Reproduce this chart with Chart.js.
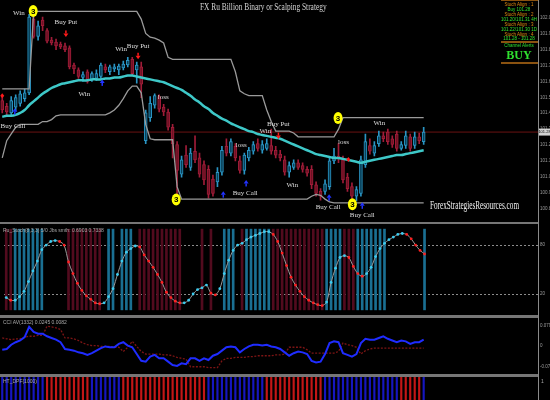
<!DOCTYPE html>
<html>
<head>
<meta charset="utf-8">
<title>FX Ru Billion Binary or Scalping Strategy</title>
<script src="https://cdn.jsdelivr.net/npm/chart.js@4.4.1/dist/chart.umd.min.js"></script>
<style>
  body { margin: 0; background: #000; }
  #wrap { position: relative; width: 550px; height: 400px; overflow: hidden; background: #000; }
  #wrap canvas { position: absolute; left: 0; }
  .rule { position: absolute; background: #767676; }
  .txt { position: absolute; white-space: nowrap; line-height: 1; }
  .info { font: 5px "Liberation Sans", sans-serif; color: #a8a8a8; left: 3px; }
  .dash { font: 4.5px "Liberation Sans", sans-serif; width: 40px; left: 499px; text-align: center; }
  .orange { color: #e08a10; }
  .green { color: #2fe02f; }
</style>
</head>
<body>
<div id="wrap">
  <canvas id="priceChart" width="550" height="222" style="top:0"></canvas>
  <canvas id="stochChart" width="550" height="91" style="top:224px"></canvas>
  <canvas id="cciChart" width="550" height="56" style="top:318px"></canvas>
  <canvas id="trendChart" width="550" height="23" style="top:377px"></canvas>

  <div class="rule" style="left:0;top:222px;width:538px;height:2px"></div>
  <div class="rule" style="left:0;top:315px;width:538px;height:3px"></div>
  <div class="rule" style="left:0;top:374px;width:538px;height:3px"></div>
  <div class="rule" style="left:538px;top:0;width:1px;height:400px;background:#8a8a8a"></div>

  <div class="txt" style="left:200px;top:1px;font:10px 'Liberation Serif',serif;color:#d4d4d4;transform:scaleX(0.74);transform-origin:left top">FX Ru Billion Binary or Scalping Strategy</div>
  <div class="txt" style="left:430px;top:198px;font:12px 'Liberation Serif',serif;color:#f2f2f2;transform:scaleX(0.6);transform-origin:left top">ForexStrategiesResources.com</div>

  <!-- dashboard top right -->
  <div class="rule" style="left:501px;top:0;width:37px;height:1px;background:#8a5210"></div>
  <div class="txt dash orange" style="top:2px">Stoch Align : 1</div>
  <div class="txt dash green" style="top:6.5px">Buy 101.28</div>
  <div class="txt dash orange" style="top:12px">Stoch Align : 2</div>
  <div class="txt dash green" style="top:17px">101.20/101.31 4H</div>
  <div class="txt dash orange" style="top:22px">Stoch Align : 3</div>
  <div class="txt dash green" style="top:27px">101.22/101.30 1D</div>
  <div class="txt dash orange" style="top:31.5px">Stoch Align : 4</div>
  <div class="txt dash green" style="top:36px">101.28 - 101.28</div>
  <div class="rule" style="left:501px;top:41px;width:37px;height:1.5px;background:#8a5210"></div>
  <div class="txt dash green" style="top:43px">Channel Alerts</div>
  <div class="txt dash green" style="top:48px;font:bold 12px 'Liberation Serif',serif">BUY</div>
  <div class="rule" style="left:501px;top:62px;width:37px;height:1.5px;background:#8a5210"></div>

  <div class="txt info" style="top:227px">Ru_Stoch(8,3,3) 5/0 Jbs smth: 0.6903 0.7338</div>
  <div class="txt info" style="top:319px">CCI AV(1332) 0.0245 0.0082</div>
  <div class="txt info" style="top:378px">HT_DPF(1000)</div>
  <div class="txt info" style="top:378px;left:541px">1</div>
</div>

<script>
// Candles (bar slots on the x axis, only the first 95 are filled)
const slots = Array.from({ length: 120 }, (_, i) => String(i + 1));

const opens = [
  101.480, 101.444, 101.402, 101.438, 101.462, 101.492, 101.528, 101.990, 101.882,
  101.984, 101.918, 101.858, 101.846, 101.834, 101.822, 101.810, 101.702, 101.672,
  101.624, 101.660, 101.612, 101.618, 101.630, 101.690, 101.660, 101.678, 101.672, 101.684,
  101.702, 101.738, 101.672, 101.690, 101.228, 101.372, 101.450, 101.504, 101.438, 101.408,
  101.312, 101.204, 101.018, 101.138, 101.060, 101.162, 101.120, 101.078, 101.048, 100.988,
  100.970, 101.030, 101.192, 101.150, 101.192, 101.102, 101.042, 101.120, 101.162, 101.210,
  101.168, 101.180, 101.198, 101.168, 101.144, 101.108, 101.030, 101.060, 101.090, 101.072, 101.048,
  101.048, 100.952, 100.910, 100.910, 100.940, 101.102, 101.132, 101.108, 101.000, 100.940,
  100.880, 100.898, 101.078, 101.198, 101.150, 101.210, 101.258, 101.282, 101.240, 101.270, 101.180,
  101.198, 101.252, 101.198, 101.252, 101.222
];
const closes = [
  101.420, 101.408, 101.480, 101.498, 101.522, 101.528, 102.002, 101.882, 101.948,
  101.948, 101.852, 101.840, 101.822, 101.816, 101.798, 101.690, 101.678, 101.630,
  101.642, 101.600, 101.648, 101.648, 101.702, 101.672, 101.690, 101.690, 101.696, 101.708,
  101.732, 101.648, 101.702, 101.582, 101.402, 101.462, 101.510, 101.426, 101.408, 101.312,
  101.210, 101.042, 101.108, 101.078, 101.150, 101.108, 101.018, 100.982, 100.892, 100.898,
  101.030, 101.168, 101.150, 101.222, 101.120, 101.042, 101.138, 101.168, 101.204, 101.180,
  101.204, 101.210, 101.162, 101.138, 101.120, 101.030, 101.072, 101.090, 101.060, 101.048, 101.024,
  100.952, 100.898, 100.880, 100.958, 101.102, 101.132, 101.120, 100.982, 100.928, 100.880,
  100.922, 101.108, 101.222, 101.162, 101.198, 101.258, 101.240, 101.222, 101.204, 101.180, 101.204,
  101.258, 101.180, 101.252, 101.228, 101.282
];
const highs = [
  101.510, 101.462, 101.504, 101.516, 101.540, 101.552, 102.020, 102.032, 101.978,
  102.002, 101.930, 101.876, 101.864, 101.846, 101.840, 101.822, 101.714, 101.684,
  101.660, 101.672, 101.660, 101.672, 101.714, 101.708, 101.702, 101.708, 101.708, 101.726,
  101.750, 101.750, 101.720, 101.720, 101.420, 101.504, 101.522, 101.516, 101.456, 101.426,
  101.330, 101.222, 101.132, 101.198, 101.180, 101.258, 101.150, 101.102, 101.072, 101.012,
  101.060, 101.192, 101.240, 101.240, 101.210, 101.132, 101.150, 101.186, 101.222, 101.240,
  101.228, 101.240, 101.300, 101.192, 101.168, 101.132, 101.096, 101.108, 101.108, 101.090, 101.066,
  101.072, 100.970, 100.928, 100.982, 101.120, 101.180, 101.210, 101.132, 101.024, 100.964,
  100.940, 101.132, 101.270, 101.240, 101.222, 101.288, 101.282, 101.300, 101.258, 101.288, 101.222,
  101.288, 101.270, 101.282, 101.276, 101.312
];
const lows = [
  101.402, 101.390, 101.384, 101.414, 101.444, 101.474, 101.516, 101.870, 101.858,
  101.918, 101.840, 101.828, 101.798, 101.804, 101.786, 101.678, 101.648, 101.618,
  101.600, 101.588, 101.600, 101.606, 101.618, 101.654, 101.642, 101.660, 101.642, 101.672,
  101.690, 101.636, 101.588, 101.498, 101.210, 101.348, 101.432, 101.408, 101.384, 101.294,
  101.120, 100.880, 101.000, 101.060, 101.042, 101.090, 101.000, 100.952, 100.868, 100.880,
  100.940, 101.012, 101.132, 101.132, 101.102, 101.024, 101.018, 101.102, 101.144, 101.162,
  101.150, 101.168, 101.144, 101.120, 101.102, 101.012, 101.000, 101.048, 101.048, 101.030, 101.006,
  100.928, 100.880, 100.856, 100.892, 100.922, 101.084, 101.090, 100.964, 100.910, 100.862,
  100.850, 100.880, 101.060, 101.144, 101.132, 101.192, 101.222, 101.204, 101.186, 101.162, 101.168,
  101.180, 101.162, 101.180, 101.210, 101.204
];

// Moving average (cyan) and the stepped channel (grey)
const maLine = [
  101.378, 101.384, 101.384, 101.390, 101.402, 101.420, 101.450, 101.474, 101.498, 101.522,
  101.540, 101.558, 101.570, 101.582, 101.588, 101.594, 101.600, 101.606, 101.606, 101.606,
  101.612, 101.612, 101.612, 101.618, 101.618, 101.624, 101.624, 101.630, 101.636, 101.636,
  101.630, 101.624, 101.618, 101.612, 101.606, 101.600, 101.594, 101.582, 101.570, 101.558,
  101.546, 101.528, 101.510, 101.486, 101.468, 101.444, 101.426, 101.402, 101.384, 101.366,
  101.354, 101.336, 101.324, 101.312, 101.300, 101.288, 101.282, 101.270, 101.264, 101.258,
  101.252, 101.246, 101.240, 101.228, 101.216, 101.204, 101.192, 101.180, 101.168, 101.156,
  101.144, 101.138, 101.132, 101.126, 101.120, 101.120, 101.114, 101.108, 101.102, 101.096,
  101.090, 101.096, 101.102, 101.108, 101.114, 101.120, 101.126, 101.132, 101.138, 101.138,
  101.144, 101.150, 101.156, 101.162, 101.168
];
const upperBand = [
  101.552, 101.552, 101.552, 101.552, 101.552, 101.552, 101.552, 102.038, 102.038, 102.038,
  102.038, 102.038, 102.038, 102.038, 102.038, 102.038, 102.038, 102.038, 102.038, 102.038,
  102.038, 102.038, 102.038, 102.038, 102.038, 102.038, 102.038, 102.038, 102.038, 102.038,
  102.038, 101.990, 101.900, 101.876, 101.870, 101.858, 101.840, 101.750, 101.738, 101.738,
  101.738, 101.738, 101.738, 101.738, 101.738, 101.738, 101.738, 101.738, 101.738, 101.738,
  101.738, 101.738, 101.660, 101.540, 101.522, 101.510, 101.510, 101.510, 101.510, 101.420,
  101.348, 101.288, 101.288, 101.288, 101.288, 101.276, 101.252, 101.252, 101.252, 101.252,
  101.252, 101.252, 101.252, 101.252, 101.252, 101.300, 101.372, 101.372, 101.372, 101.372,
  101.372, 101.372, 101.372, 101.372, 101.372, 101.372, 101.372, 101.372, 101.372, 101.372,
  101.372, 101.372, 101.372, 101.372, 101.372
];
const lowerBand = [
  101.120, 101.228, 101.270, 101.312, 101.330, 101.330, 101.330, 101.330, 101.330, 101.348,
  101.348, 101.360, 101.384, 101.390, 101.390, 101.390, 101.390, 101.390, 101.390, 101.390,
  101.390, 101.390, 101.390, 101.390, 101.402, 101.420, 101.450, 101.492, 101.540, 101.570,
  101.570, 101.528, 101.330, 101.240, 101.234, 101.234, 101.234, 101.234, 101.234, 100.940,
  100.862, 100.862, 100.862, 100.862, 100.862, 100.862, 100.862, 100.862, 100.862, 100.862,
  100.862, 100.862, 100.862, 100.862, 100.862, 100.862, 100.862, 100.862, 100.862, 100.862,
  100.862, 100.862, 100.862, 100.862, 100.862, 100.862, 100.862, 100.862, 100.862, 100.880,
  100.892, 100.886, 100.862, 100.844, 100.838, 100.838, 100.838, 100.838, 100.838, 100.838,
  100.838, 100.838, 100.838, 100.838, 100.838, 100.838, 100.838, 100.838, 100.838, 100.838,
  100.838, 100.838, 100.838, 100.838, 100.838
];
const priceTicks = [100.8, 100.9, 101.0, 101.1, 101.2, 101.3, 101.4, 101.5, 101.6, 101.7, 101.8, 101.9, 102.0];

// Signal labels, arrows and "3" markers on the price pane (candle index, price)
const noteIdx = [3.7, 14.2, 26.5, 30.3, 18.3, 2.4, 35.9, 58.7, 61.6, 53.3, 54.2, 64.7, 72.7, 76.1, 84.1, 80.3];
const notePrice = [102.03, 101.97, 101.80, 101.82, 101.52, 101.32, 101.50, 101.29, 101.33, 101.20, 100.90, 100.95, 100.81, 101.22, 101.34, 100.76];
const noteText = ['Win', 'Buy Put', 'Win', 'Buy Put', 'Win', 'Buy Call', 'loss', 'Win', 'Buy Put', 'loss', 'Buy Call', 'Win', 'Buy Call', 'loss', 'Win', 'Buy Call'];
const arrowIdx = [14.2, 30.3, 61.6, 2.8, 22.3, 54.4, 49.3, 72.9, 80.3];
const arrowPrice = [101.90, 101.76, 101.26, 101.41, 101.59, 100.96, 100.89, 100.87, 100.82];
const arrowDir = [-1, -1, -1, 1, 1, 1, 1, 1, 1];
const dotIdx = [0, 77.2];
const dotPrice = [101.51, 101.11];
const circleIdx = [6.9, 38.8, 74.9, 78.1];
const circlePrice = [102.04, 100.86, 101.37, 100.83];

// Stochastic pane
const stochValues = [
  15.6, 12.3, 12.3, 16.7, 23.2, 35.2, 48.3, 60.3, 74.3, 79.9,
  84.3, 85.4, 84.3, 79.9, 59.2, 45.0, 33.0, 24.3, 17.8, 13.4,
  9.1, 8.0, 9.1, 16.7, 26.5, 43.9, 60.3, 71.2, 75.6, 78.8,
  77.7, 67.9, 60.3, 52.7, 43.9, 34.1, 22.1, 15.6, 11.2, 9.1,
  9.1, 12.3, 20.0, 25.4, 27.6, 30.9, 21.0, 18.9, 26.5, 45.0,
  61.4, 73.4, 79.9, 82.1, 86.5, 89.7, 91.9, 94.1, 96.3, 96.3,
  93.0, 84.3, 70.1, 54.8, 40.6, 30.9, 23.2, 16.7, 12.3, 9.1,
  6.9, 5.8, 10.1, 34.1, 51.6, 64.7, 66.9, 64.7, 53.8, 45.0,
  41.7, 45.0, 52.7, 65.8, 75.6, 82.1, 86.5, 89.7, 93.0, 94.1,
  93.0, 87.6, 79.9, 73.4, 69.0
];
// 1 = cyan zone bar, -1 = red zone bar, 0 = none
const stochZone = [
  -1, -1, 1, 1, 1, 1, 1, 1, 1, 0,
  0, 0, 0, 0, -1, -1, -1, -1, -1, -1,
  -1, -1, 0, 1, 1, 0, 1, 1, 1, 0,
  -1, -1, -1, -1, -1, -1, -1, -1, -1, -1,
  0, 0, 0, 0, -1, 0, -1, 0, 0, 1,
  1, 1, 0, -1, 1, 1, 1, 1, 1, 1,
  -1, -1, -1, -1, -1, -1, -1, -1, -1, -1,
  -1, -1, 1, 1, 1, 1, -1, -1, -1, 1,
  1, 1, 1, 1, 1, 1, 0, 0, 0, 0,
  0, 0, 0, 0, 1
];
const stochLevels = [80, 20];
const stochTicks = [20, 80];

// CCI / signal pane
const cciMain = [
  -0.0147, -0.0115, 0.0049, 0.0147, 0.0213, 0.0344, 0.0736, 0.0540, 0.0475, 0.0475,
  0.0376, 0.0311, 0.0245, 0.0147, -0.0115, -0.0147, -0.0180, -0.0245, -0.0278, -0.0344,
  -0.0278, -0.0180, -0.0082, -0.0016, -0.0049, -0.0049, 0.0082, 0.0147, 0.0016, -0.0049,
  -0.0311, -0.0573, -0.0605, -0.0409, -0.0344, -0.0475, -0.0475, -0.0605, -0.0736, -0.0769,
  -0.0671, -0.0704, -0.0475, -0.0475, -0.0573, -0.0475, -0.0540, -0.0376, -0.0311, -0.0180,
  -0.0049, -0.0016, -0.0049, -0.0245, -0.0115, -0.0016, 0.0049, 0.0049, 0.0016, 0.0049,
  -0.0016, -0.0049, -0.0115, -0.0245, -0.0376, -0.0278, -0.0213, -0.0245, -0.0311, -0.0573,
  -0.0638, -0.0605, -0.0311, 0.0115, 0.0180, 0.0147, -0.0278, -0.0344, -0.0409, -0.0311,
  0.0115, 0.0278, 0.0245, 0.0245, 0.0311, 0.0376, 0.0278, 0.0213, 0.0147, 0.0213,
  0.0180, 0.0082, 0.0147, 0.0147, 0.0245
];
const cciSignal = [
  0.0311, 0.0278, 0.0245, 0.0278, 0.0278, 0.0344, 0.0376, 0.0376, 0.0409, 0.0409,
  0.0769, 0.0736, 0.0704, 0.0638, 0.0311, 0.0311, 0.0278, 0.0213, 0.0115, 0.0049,
  0.0016, 0.0016, -0.0016, -0.0016, -0.0016, -0.0049, -0.0049, -0.0213, -0.0049, 0.0180,
  -0.0016, -0.0213, -0.0311, -0.0311, -0.0311, -0.0311, -0.0344, -0.0344, -0.0376, -0.0442,
  -0.0475, -0.0507, -0.0802, -0.0802, -0.0802, -0.0802, -0.0835, -0.0835, -0.0835, -0.0573,
  -0.0475, -0.0475, -0.0442, -0.0442, -0.0442, -0.0409, -0.0409, -0.0376, -0.0376, -0.0376,
  -0.0376, -0.0344, -0.0344, -0.0311, -0.0049, -0.0049, -0.0049, -0.0049, -0.0147, -0.0278,
  -0.0278, -0.0278, -0.0278, -0.0278, -0.0278, -0.0213, 0.0115, 0.0049, 0.0016, -0.0049,
  -0.0311, -0.0180, -0.0115, -0.0082, -0.0082, -0.0082, -0.0082, -0.0082, -0.0082, -0.0082,
  -0.0082, -0.0082, -0.0082, -0.0082, -0.0082
];
const cciTicks = [-0.079, 0, 0.079];

// Trend histogram: 1 = blue, -1 = red
const trendDir = [
  1, 1, 1, 1, 1, 1, 1, 1, 1, 1,
  -1, -1, -1, -1, -1, -1, -1, -1, -1, -1,
  1, 1, 1, 1, 1, 1, 1, -1, -1, -1,
  -1, -1, -1, -1, -1, -1, -1, -1, -1, -1,
  -1, -1, -1, -1, -1, -1, 1, 1, 1, 1,
  1, 1, 1, 1, 1, 1, 1, 1, 1, -1,
  -1, -1, -1, -1, -1, -1, -1, -1, -1, -1,
  -1, -1, 1, 1, 1, 1, 1, 1, 1, 1,
  1, 1, 1, 1, 1, 1, 1, 1, 1, -1,
  -1, -1, -1, -1, 1
];

Chart.defaults.animation = false;
Chart.defaults.font.family = '"Liberation Sans", Arial, sans-serif';
Chart.defaults.plugins.legend.display = false;
Chart.defaults.plugins.tooltip.enabled = false;

const xAxis = () => ({ type: 'category', labels: slots, offset: true, display: false, grid: { display: false } });
const yAxis = (min, max, tickVals, fmt) => ({
  position: 'right', min: min, max: max,
  grid: { display: false, drawTicks: false }, border: { display: false },
  afterFit(s) { s.width = 12; },
  afterBuildTicks(s) { s.ticks = tickVals.map(v => ({ value: v })); },
  ticks: { color: '#9c9c9c', font: { size: 4.5 }, padding: 2, autoSkip: false, callback: fmt }
});

const isUp = i => closes[i] >= opens[i];

// price pane extras
const pricePlugin = {
  id: 'pricePane',
  beforeDatasetsDraw(chart) {
    const { ctx, chartArea, scales: { y } } = chart;
    const py = y.getPixelForValue(closes[closes.length - 1]);
    ctx.save();
    ctx.strokeStyle = '#6a1212';
    ctx.lineWidth = 1;
    ctx.beginPath();
    ctx.moveTo(chartArea.left, py);
    ctx.lineTo(chartArea.right, py);
    ctx.stroke();
    ctx.restore();
  },
  afterDraw(chart) {
    const { ctx, scales: { x, y } } = chart;
    ctx.save();
    ctx.textAlign = 'center';
    ctx.textBaseline = 'middle';

    ctx.font = '7px "Liberation Serif", serif';
    ctx.fillStyle = '#dedede';
    noteText.forEach((t, i) => {
      ctx.fillText(t, x.getPixelForValue(noteIdx[i]), y.getPixelForValue(notePrice[i]));
    });

    arrowIdx.forEach((idx, i) => {
      const ax = x.getPixelForValue(idx);
      const ay = y.getPixelForValue(arrowPrice[i]);
      const d = arrowDir[i];
      ctx.fillStyle = d > 0 ? '#2233ff' : '#ff1a1a';
      ctx.beginPath();
      ctx.moveTo(ax, ay - 3.5 * d);
      ctx.lineTo(ax - 2.5, ay);
      ctx.lineTo(ax + 2.5, ay);
      ctx.closePath();
      ctx.fill();
      ctx.fillRect(ax - 0.75, d > 0 ? ay : ay - 3, 1.5, 3);
    });

    ctx.fillStyle = '#ff1a1a';
    dotIdx.forEach((idx, i) => {
      const dx = x.getPixelForValue(idx);
      const dy = y.getPixelForValue(dotPrice[i]);
      ctx.beginPath();
      ctx.moveTo(dx, dy - 2.5); ctx.lineTo(dx + 2, dy); ctx.lineTo(dx, dy + 2.5); ctx.lineTo(dx - 2, dy);
      ctx.closePath();
      ctx.fill();
    });

    circleIdx.forEach((idx, i) => {
      const cx = x.getPixelForValue(idx);
      const cy = y.getPixelForValue(circlePrice[i]);
      ctx.fillStyle = '#ffff00';
      ctx.beginPath();
      ctx.ellipse(cx, cy, 4.5, 6, 0, 0, Math.PI * 2);
      ctx.fill();
      ctx.fillStyle = '#000';
      ctx.font = 'bold 8px "Liberation Sans", sans-serif';
      ctx.fillText('3', cx, cy + 0.5);
    });

    // current price box on the axis
    const last = closes[closes.length - 1];
    const py = y.getPixelForValue(last);
    ctx.fillStyle = '#d2d2d2';
    ctx.fillRect(539, py - 3.5, 11, 7);
    ctx.fillStyle = '#000';
    ctx.font = '4px "Liberation Sans", sans-serif';
    ctx.fillText(last.toFixed(2), 544.5, py + 0.3);
    ctx.restore();
  }
};

new Chart(document.getElementById('priceChart'), {
  type: 'bar',
  data: {
    labels: slots,
    datasets: [
      { type: 'line', data: maLine, borderColor: '#3ec8c8', borderWidth: 2.5, pointRadius: 0, tension: 0.4 },
      { type: 'line', data: upperBand, borderColor: '#9a9a9a', borderWidth: 1.3, pointRadius: 0, tension: 0 },
      { type: 'line', data: lowerBand, borderColor: '#9a9a9a', borderWidth: 1.3, pointRadius: 0, tension: 0 },
      {
        data: opens.map((o, i) => [o, closes[i]]),
        backgroundColor: opens.map((o, i) => isUp(i) ? '#0a4058' : '#6e1224'),
        borderColor: opens.map((o, i) => isUp(i) ? '#2a95c4' : '#a01c38'),
        borderWidth: 1, borderSkipped: false, barThickness: 3, grouped: false
      },
      {
        data: lows.map((l, i) => [l, highs[i]]),
        backgroundColor: lows.map((l, i) => isUp(i) ? '#2a95c4' : '#a01c38'),
        barThickness: 1, grouped: false
      }
    ]
  },
  options: {
    responsive: false,
    scales: {
      x: xAxis(),
      y: yAxis(100.748, 102.08, priceTicks, v => v.toFixed(1))
    }
  },
  plugins: [pricePlugin]
});

// stochastic
const levelPlugin = {
  id: 'levels',
  beforeDatasetsDraw(chart) {
    const { ctx, chartArea, scales: { y } } = chart;
    ctx.save();
    ctx.strokeStyle = '#8c8c8c';
    ctx.lineWidth = 1;
    ctx.setLineDash([2, 2]);
    stochLevels.forEach(v => {
      const py = Math.round(y.getPixelForValue(v)) + 0.5;
      ctx.beginPath();
      ctx.moveTo(chartArea.left, py);
      ctx.lineTo(chartArea.right, py);
      ctx.stroke();
    });
    ctx.restore();
  }
};

new Chart(document.getElementById('stochChart'), {
  type: 'bar',
  data: {
    labels: slots,
    datasets: [
      {
        type: 'line', data: stochValues, borderColor: '#9a9a9a', borderWidth: 1, tension: 0.3,
        pointRadius: 1.4, pointBorderWidth: 0,
        pointBackgroundColor: stochValues.map((v, i) => (i === 0 || v >= stochValues[i - 1]) ? '#3cccf0' : '#ff2020')
      },
      {
        data: stochZone.map(z => z === 0 ? null : 100),
        backgroundColor: stochZone.map(z => z > 0 ? '#1a6f92' : '#520b1e'),
        barThickness: 2, grouped: false
      }
    ]
  },
  options: {
    responsive: false,
    scales: { x: xAxis(), y: yAxis(0, 100, stochTicks, v => String(v)) }
  },
  plugins: [levelPlugin]
});

// CCI
new Chart(document.getElementById('cciChart'), {
  type: 'line',
  data: {
    labels: slots,
    datasets: [
      { data: cciMain, borderColor: '#1f2cff', borderWidth: 2, pointRadius: 0, tension: 0 },
      { data: cciSignal, borderColor: '#7c1414', borderWidth: 1.3, borderDash: [2, 1.5], pointRadius: 0, tension: 0 }
    ]
  },
  options: {
    responsive: false,
    scales: { x: xAxis(), y: yAxis(-0.09, 0.09, cciTicks, v => v === 0 ? '0' : v.toFixed(3)) }
  }
});

// trend histogram
new Chart(document.getElementById('trendChart'), {
  type: 'bar',
  data: {
    labels: slots,
    datasets: [{
      data: trendDir.map(Math.abs),
      backgroundColor: trendDir.map(d => d > 0 ? '#1616c0' : '#c41616'),
      barThickness: 1.5
    }]
  },
  options: {
    responsive: false,
    scales: { x: xAxis(), y: yAxis(0, 1, [], v => '') }
  }
});
</script>
</body>
</html>
